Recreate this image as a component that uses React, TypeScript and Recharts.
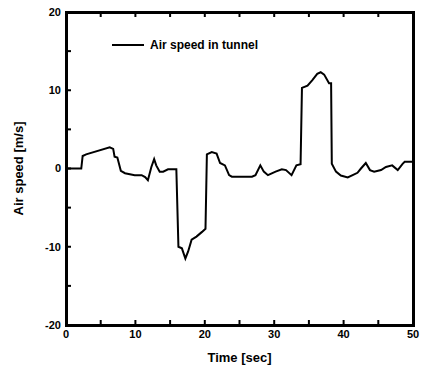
import React from "react";
import { LineChart, Line, XAxis, YAxis, Legend, Label } from "recharts";

// Time (sec) and air speed (m/s)
const time = [
  0, 2.2, 2.4, 2.9, 6.3, 6.8, 7.0, 7.4, 7.9, 8.5, 9.9, 10.9, 11.4, 11.8, 12.3,
  12.7, 13.0, 13.5, 14.0, 14.7, 15.9, 16.2, 16.7, 17.2, 17.6, 18.1, 18.8, 19.6,
  20.1, 20.3, 21.0, 21.7, 22.2, 22.9, 23.5, 23.9, 26.8, 27.3, 28.0, 28.5, 29.1,
  30.2, 31.1, 31.7, 32.5, 33.2, 33.8, 34.0, 34.8, 35.5, 36.2, 36.7, 37.2, 37.9,
  38.2, 38.3, 38.9, 39.6, 40.6, 41.3, 42.0, 42.5, 43.2, 43.8, 44.4, 45.4, 46.1,
  47.0, 47.8, 48.5, 48.8, 50,
];
const speed = [
  0, 0, 1.6, 1.8, 2.7, 2.5, 1.5, 1.4, -0.3, -0.6, -0.85, -0.85, -1.1, -1.5, 0.2,
  1.2, 0.4, -0.4, -0.4, -0.1, -0.1, -10, -10.2, -11.5, -10.6, -9.1, -8.7, -8.1,
  -7.7, 1.8, 2.1, 1.9, 0.7, 0.4, -0.85, -1.05, -1.05, -0.85, 0.4, -0.4, -0.85,
  -0.4, -0.1, -0.2, -0.85, 0.4, 0.55, 10.3, 10.6, 11.3, 12.1, 12.3, 12.0, 10.9,
  10.9, 0.6, -0.4, -0.9, -1.15, -0.85, -0.55, 0, 0.7, -0.2, -0.4, -0.2, 0.2,
  0.4, -0.2, 0.6, 0.85, 0.85,
];

const xTicks = [0, 5, 10, 15, 20, 25, 30, 35, 40, 45, 50];
const yTicks = [-20, -15, -10, -5, 0, 5, 10, 15, 20];
const xTickLabels = [0, 10, 20, 30, 40, 50];
const yTickLabels = [-20, -10, 0, 10, 20];
const xRange = [0, 50];
const yRange = [-20, 20];

const data = time.map((t, i) => ({ t, v: speed[i] }));

const W = 421;
const H = 369;
const margin = { top: 11, right: 7, left: 0, bottom: 0 };
const yAxisW = 66;
const xAxisH = 44;

const font = "'Liberation Sans', Arial, sans-serif";
const tickStyle = { fontSize: 11, fontWeight: 700, fill: "#000", fontFamily: font };
const tickLine = { stroke: "#000", strokeWidth: 2 };

const YTitle = (props: any) => {
  const vb = props.viewBox || { x: 0, y: 0, width: 0, height: 0 };
  const cx = 18;
  const cy = vb.y + vb.height / 2;
  return (
    <text
      x={cx}
      y={cy}
      transform={`rotate(-90 ${cx} ${cy})`}
      textAnchor="middle"
      dominantBaseline="central"
      fontSize={13}
      fontWeight={700}
      fontFamily={font}
      fill="#000"
    >
      Air speed [m/s]
    </text>
  );
};

const LegendBox = () => (
  <div style={{ display: "flex", alignItems: "center", fontFamily: font, fontSize: 12, fontWeight: 700, color: "#000" }}>
    <svg width={32} height={4}>
      <line x1={0} y1={2} x2={32} y2={2} stroke="#000" strokeWidth={2} />
    </svg>
    <span style={{ marginLeft: 6, whiteSpace: "nowrap" }}>Air speed in tunnel</span>
  </div>
);

export default function App() {
  // plot frame box, drawn over the chart
  const plotLeft = margin.left + yAxisW;
  const plotTop = margin.top + 1;
  const plotW = W - margin.right - 1 - plotLeft;
  const plotH = H - margin.bottom - xAxisH - plotTop;
  const bw = 3;
  return (
    <div style={{ position: "absolute", left: 0, top: 0, width: W, height: H, background: "#fff" }}>
      <LineChart width={W} height={H} data={data} margin={margin}>
        <XAxis
          dataKey="t"
          type="number"
          domain={xRange}
          ticks={xTicks}
          tickFormatter={(v) => (xTickLabels.includes(v) ? String(v) : "")}
          height={xAxisH}
          tickSize={-5}
          tickMargin={10}
          tick={tickStyle}
          axisLine={false}
          tickLine={tickLine}
          interval={0}
        >
          <Label
            value="Time [sec]"
            position="insideBottom"
            offset={7}
            style={{ fontSize: 13, fontWeight: 700, fill: "#000", fontFamily: font }}
          />
        </XAxis>
        <XAxis
          xAxisId="top"
          orientation="top"
          dataKey="t"
          type="number"
          domain={xRange}
          ticks={xTicks}
          tickFormatter={() => ""}
          height={1}
          tickSize={-5}
          axisLine={false}
          tickLine={tickLine}
          interval={0}
        />
        <YAxis
          type="number"
          domain={yRange}
          ticks={yTicks}
          tickFormatter={(v) => (yTickLabels.includes(v) ? String(v) : "")}
          width={yAxisW}
          tickSize={-5}
          tickMargin={10}
          tick={tickStyle}
          axisLine={false}
          tickLine={tickLine}
          interval={0}
          label={<YTitle />}
        />
        <YAxis
          yAxisId="r"
          orientation="right"
          type="number"
          domain={yRange}
          ticks={yTicks}
          tickFormatter={() => ""}
          width={1}
          tickSize={-5}
          axisLine={false}
          tickLine={tickLine}
          interval={0}
        />
        <Legend
          layout="horizontal"
          verticalAlign="middle"
          align="center"
          wrapperStyle={{ left: 112, top: 38, width: "auto" }}
          content={<LegendBox />}
        />
        <Line
          type="linear"
          dataKey="v"
          stroke="#000"
          strokeWidth={2}
          dot={false}
          isAnimationActive={false}
        />
      </LineChart>
      <div
        style={{
          position: "absolute",
          left: plotLeft - bw / 2,
          top: plotTop - bw / 2,
          width: plotW + bw,
          height: plotH + bw,
          border: `${bw}px solid #000`,
          boxSizing: "border-box",
          pointerEvents: "none",
        }}
      />
    </div>
  );
}
